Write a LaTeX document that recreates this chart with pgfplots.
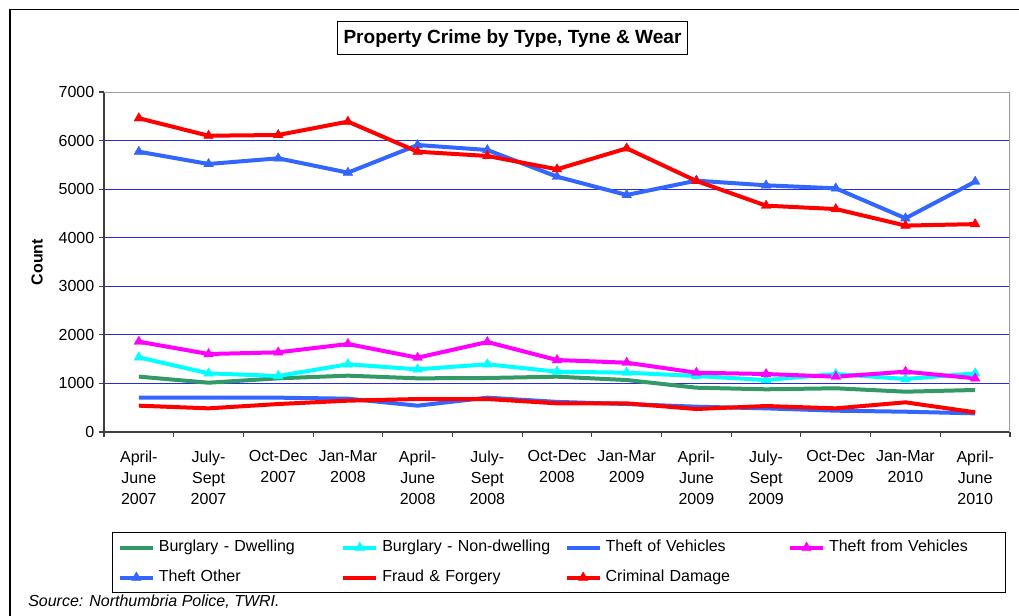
\documentclass[border=0pt]{standalone}
\usepackage{fontspec}
\setmainfont{Liberation Sans}
\usepackage{pgfplots}
\usepackage{pgfplotstable}
\pgfplotsset{compat=1.18}
\definecolor{cGreen}{RGB}{51,153,102}
\definecolor{cCyan}{RGB}{0,255,255}
\definecolor{cBlue}{RGB}{51,102,255}
\definecolor{cMag}{RGB}{255,0,255}
\definecolor{cRed}{RGB}{255,0,0}
\definecolor{cGrid}{RGB}{40,40,235}

\pgfplotstableread{
x BD BND TV TFV TO FF CD
0 1140 1537 707 1860 5771 542 6460
1 1015 1208 707 1606 5518 487 6100
2 1105 1153 707 1640 5635 576 6115
3 1160 1394 686 1812 5340 645 6390
4 1105 1290 542 1530 5909 679 5771
5 1112 1394 707 1853 5806 679 5683
6 1139 1242 620 1482 5257 590 5410
7 1070 1221 576 1427 4880 590 5840
8 912 1153 521 1221 5175 473 5168
9 879 1070 487 1194 5079 535 4660
10 900 1194 439 1139 5017 487 4590
11 830 1091 418 1242 4400 611 4250
12 865 1208 384 1105 5154 405 4280
}\crimedata

\begin{document}
\begin{tikzpicture}
\begin{axis}[
  at={(78pt,-324pt)}, anchor=south west,
  scale only axis, width=679.5pt, height=255pt,
  xmin=-0.5, xmax=12.5, ymin=0, ymax=7000,
  axis x line*=bottom, axis y line*=left,
  axis line style={-, draw=black!75, line width=0.9pt},
  tick align=outside, major tick length=3.75pt,
  tick style={draw=black!75, line width=0.8pt},
  ytick={0,1000,...,7000},
  ymajorgrids, major grid style={cGrid, line width=0.75pt},
  xtick={-0.5,0.5,...,12.5}, xticklabels={},
  extra x ticks={0,...,12},
  extra x tick style={major tick length=0pt},
  extra x tick labels={{April-\\June\\2007},{July-\\Sept\\2007},{Oct-Dec\\2007},{Jan-Mar\\2008},{April-\\June\\2008},{July-\\Sept\\2008},{Oct-Dec\\2008},{Jan-Mar\\2009},{April-\\June\\2009},{July-\\Sept\\2009},{Oct-Dec\\2009},{Jan-Mar\\2010},{April-\\June\\2010}},
  xticklabel style={align=center, anchor=north, yshift=-10.5pt, font=\fontsize{12}{15.75}\selectfont},
  yticklabel style={font=\fontsize{12}{14}\selectfont},
  /pgf/number format/assume math mode=true,
  /pgf/number format/1000 sep={},
  ylabel={Count},
  every axis y label/.style={at={(rel axis cs:0,0.5)}, xshift=-50.25pt, rotate=90, anchor=center, font=\fontsize{12}{14}\selectfont\bfseries},
  legend columns=4,
  legend cell align=left,
  legend style={at={(0.00883,-0.2941)}, anchor=north west, draw=black, line width=0.8pt,
    inner xsep=4pt, inner ysep=5.25pt, font=\fontsize{12}{14}\selectfont, row sep=10.5pt,
    nodes={inner sep=0pt, text height=9pt, text depth=3pt, anchor=west},
    /tikz/every odd column/.append style={column sep=3pt},
    /tikz/every even column/.append style={text width=128pt, column sep=8.8pt}},
  legend image code/.code={\draw[mark repeat=2,mark phase=2,#1] plot coordinates {(0pt,0pt) (12.375pt,0pt) (24.75pt,0pt)};},
  every axis plot/.append style={line width=3pt, line join=round},
  mark size=4.2pt,
]
\addplot[cGreen, no marks] table[x=x,y=BD] {\crimedata};
\addlegendentry{Burglary - Dwelling}
\addplot[cCyan, mark=triangle*, mark options={solid, line width=0.3pt}] table[x=x,y=BND] {\crimedata};
\addlegendentry{Burglary - Non-dwelling}
\addplot[cBlue, no marks] table[x=x,y=TV] {\crimedata};
\addlegendentry{Theft of Vehicles}
\addplot[cMag, mark=triangle*, mark options={solid, line width=0.3pt}] table[x=x,y=TFV] {\crimedata};
\addlegendentry{Theft from Vehicles}
\addplot[cBlue, mark=triangle*, mark options={solid, line width=0.3pt}] table[x=x,y=TO] {\crimedata};
\addlegendentry{Theft Other}
\addplot[cRed, no marks] table[x=x,y=FF] {\crimedata};
\addlegendentry{Fraud \& Forgery}
\addplot[cRed, mark=triangle*, mark options={solid, line width=0.3pt}] table[x=x,y=CD] {\crimedata};
\addlegendentry{Criminal Damage}
\draw[gray!75, line width=1.2pt] (rel axis cs:0,1) -- (rel axis cs:1,1) -- (rel axis cs:1,0);
\end{axis}
\begin{scope}[x=0.75pt,y=-0.75pt]
\draw[line width=1.1pt] (10,616) -- (10,9.3) -- (1019,9.3);
\node[draw, line width=0.75pt, minimum width=263pt, minimum height=24.75pt, inner sep=0pt,
      font=\fontsize{14.3}{17}\selectfont\bfseries] at (512.5,38.5) {Property Crime by Type, Tyne \& Wear};
\node[anchor=west, inner sep=0pt, font=\fontsize{12}{14}\selectfont\itshape] at (28,602) {Source: Northumbria Police, TWRI.};
\pgfresetboundingbox
\useasboundingbox (0,0) rectangle (1019,616);
\end{scope}
\end{tikzpicture}
\end{document}
